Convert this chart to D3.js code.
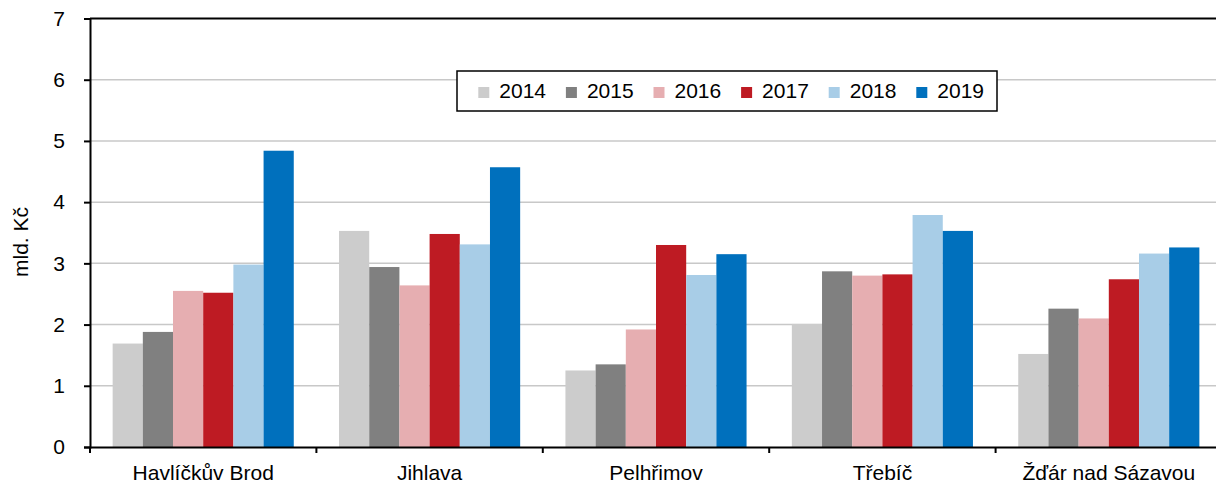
<!doctype html>
<html>
<head>
<meta charset="utf-8">
<script src="https://cdn.jsdelivr.net/npm/d3@7"></script>
<style>
  body { margin: 0; background: #fff; }
  svg { display: block; font-family: "Liberation Sans", Arial, sans-serif; }
  .tick text { font-size: 21px; fill: #000; }
</style>
</head>
<body>
<svg id="chart" width="1216" height="480"></svg>
<script>
var districts = ["Havlíčkův Brod", "Jihlava", "Pelhřimov", "Třebíč", "Žďár nad Sázavou"];
var years = ["2014", "2015", "2016", "2017", "2018", "2019"];
var colors = ["#cccccc", "#808080", "#e6aeb1", "#be1b23", "#a8cde7", "#0070bd"];

// mld. Kč, one array per year, in district order
var v2014 = [1.69, 3.53, 1.25, 2.01, 1.52];
var v2015 = [1.88, 2.94, 1.35, 2.87, 2.26];
var v2016 = [2.55, 2.64, 1.92, 2.80, 2.10];
var v2017 = [2.52, 3.48, 3.30, 2.82, 2.74];
var v2018 = [2.98, 3.31, 2.81, 3.79, 3.16];
var v2019 = [4.84, 4.57, 3.15, 3.53, 3.26];
var series = [v2014, v2015, v2016, v2017, v2018, v2019];

var yTicks = [0, 1, 2, 3, 4, 5, 6, 7];

var svg = d3.select("#chart");
var plotL = 90, plotR = 1222, plotT = 18.5, plotB = 447;

var x = d3.scaleBand().domain(districts).range([plotL, plotR]).padding(0);
var xi = d3.scaleBand().domain(years)
    .range([x.bandwidth() * 0.1, x.bandwidth() * 0.9]).padding(0);
var y = d3.scaleLinear().domain([0, 7]).range([plotB, plotT]);

// gridlines
svg.append("g").selectAll("line")
  .data(yTicks.slice(1, -1))
  .enter().append("line")
    .attr("x1", plotL).attr("x2", plotR)
    .attr("y1", function(d) { return y(d); })
    .attr("y2", function(d) { return y(d); })
    .attr("stroke", "#c8c8c8")
    .attr("stroke-width", 1.5);

// bars
var groups = svg.append("g").selectAll("g")
  .data(districts)
  .enter().append("g")
    .attr("transform", function(d) { return "translate(" + x(d) + ",0)"; });

groups.selectAll("rect")
  .data(function(d, i) { return years.map(function(yr, j) { return { year: yr, j: j, value: series[j][i] }; }); })
  .enter().append("rect")
    .attr("x", function(d) { return xi(d.year); })
    .attr("width", xi.bandwidth())
    .attr("y", function(d) { return y(d.value); })
    .attr("height", function(d) { return y(0) - y(d.value); })
    .attr("fill", function(d) { return colors[d.j]; });

// top border
svg.append("line")
  .attr("x1", plotL).attr("x2", plotR)
  .attr("y1", plotT).attr("y2", plotT)
  .attr("stroke", "#000").attr("stroke-width", 2);

// y axis
var yAxis = svg.append("g")
  .attr("transform", "translate(" + plotL + ",0)")
  .call(d3.axisLeft(y).tickValues(yTicks).tickFormat(d3.format("d")).tickSize(6).tickPadding(19));
yAxis.select(".domain").attr("stroke", "#000").attr("stroke-width", 2);
yAxis.selectAll(".tick line").attr("stroke", "#000").attr("stroke-width", 2);

// x axis
var xAxis = svg.append("g")
  .attr("transform", "translate(0," + plotB + ")")
  .call(d3.axisBottom(x).tickSize(0).tickPadding(18));
xAxis.select(".domain").attr("stroke", "#000").attr("stroke-width", 2);

svg.append("g").selectAll("line")
  .data(d3.range(districts.length + 1))
  .enter().append("line")
    .attr("x1", function(i) { return plotL + i * x.step(); })
    .attr("x2", function(i) { return plotL + i * x.step(); })
    .attr("y1", plotB).attr("y2", plotB + 6)
    .attr("stroke", "#000").attr("stroke-width", 2);

// y title
svg.append("text")
  .attr("transform", "translate(28,242) rotate(-90)")
  .attr("text-anchor", "middle")
  .attr("font-size", 21)
  .text("mld. Kč");

// legend
var lg = svg.append("g").attr("transform", "translate(457,71)");
lg.append("rect")
  .attr("width", 540).attr("height", 40)
  .attr("fill", "#fff").attr("stroke", "#000").attr("stroke-width", 1.5);

var item = lg.selectAll("g.item")
  .data(years)
  .enter().append("g")
    .attr("class", "item")
    .attr("transform", function(d, i) { return "translate(" + (21.3 + i * 87.6) + ",0)"; });
item.append("rect")
  .attr("y", 16).attr("width", 11).attr("height", 11)
  .attr("fill", function(d, i) { return colors[i]; });
item.append("text")
  .attr("x", 21).attr("y", 27)
  .attr("font-size", 21)
  .text(function(d) { return d; });
</script>
</body>
</html>
